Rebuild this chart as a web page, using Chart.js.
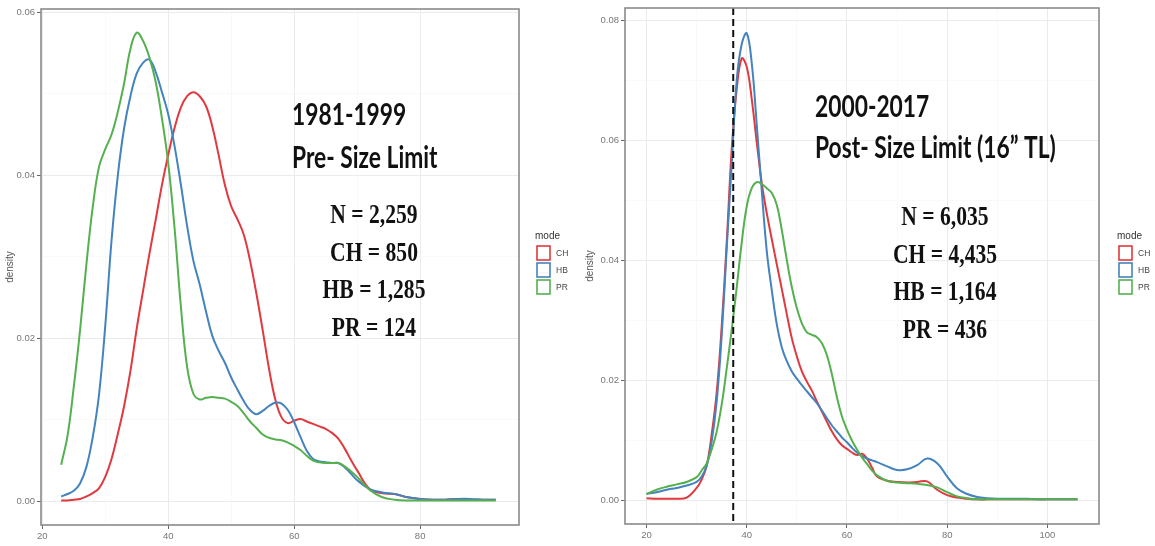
<!DOCTYPE html>
<html>
<head>
<meta charset="utf-8">
<title>Length density by mode, pre and post size limit</title>
<script src="https://cdn.jsdelivr.net/npm/chart.js@4.4.1/dist/chart.umd.min.js"></script>
<style>
  body { margin: 0; background: #fff; }
  #wrap { position: relative; width: 1155px; height: 546px; }
  canvas { position: absolute; top: 0; }
</style>
</head>
<body>
<div id="wrap">
  <canvas id="postChart" width="595" height="546" style="left:560px"></canvas>
  <canvas id="preChart" width="580" height="546" style="left:0"></canvas>
</div>
<script>
// ---- data ----
const modes = ['CH', 'HB', 'PR'];
const modeColors = ['#E0393E', '#4483BE', '#55B04F'];

// 1981-1999
const lenPre = [23,24,25,26,27,28,29,30,31,32,33,34,35,36,37,38,39,40,41,42,43,44,45,46,47,48,49,50,
  51,52,53,54,55,56,57,58,59,60,61,62,63,64,65,66,67,68,69,70,72,74,76,78,80,82,84,86,88,90,92];
const chPre = [0.0001,0.0001,0.0002,0.0003,0.0006,0.0010,0.0016,0.0030,0.0052,0.0083,
  0.0117,0.0160,0.0212,0.0258,0.0303,0.0345,0.0388,0.0425,0.0458,0.0483,
  0.0497,0.0502,0.0497,0.0485,0.0460,0.0425,0.0388,0.0362,0.0346,0.0327,
  0.0295,0.0255,0.0210,0.0163,0.0125,0.0103,0.0096,0.0099,0.0101,0.0098,
  0.0095,0.0092,0.0089,0.0084,0.0077,0.0065,0.0051,0.0038,
  0.0015,0.0010,0.0009,0.0005,0.0003,0.0002,0.0002,0.0003,0.0002,0.0002,0.0002];
const hbPre = [0.0006,0.0009,0.0013,0.0022,0.0042,0.0078,0.0130,0.0215,0.0320,0.0400,
  0.0458,0.0497,0.0525,0.0538,0.0542,0.0527,0.0502,0.0475,0.0436,0.0389,
  0.0338,0.0295,0.0266,0.0233,0.0203,0.0185,0.0170,0.0152,0.0137,0.0123,
  0.0112,0.0107,0.0111,0.0117,0.0121,0.0120,0.0112,0.0097,0.0079,0.0062,
  0.0052,0.0049,0.0048,0.0047,0.0047,0.0042,0.0034,0.0026,
  0.0015,0.0011,0.0009,0.0005,0.0003,0.0002,0.0002,0.0003,0.0003,0.0002,0.0002];
const prPre = [0.0045,0.0080,0.0140,0.0210,0.0290,0.0360,0.0410,0.0432,0.0450,0.0478,
  0.0513,0.0555,0.0575,0.0565,0.0545,0.0515,0.0470,0.0415,0.0336,0.0240,
  0.0165,0.0132,0.0125,0.0127,0.0128,0.0127,0.0126,0.0122,0.0117,0.0108,
  0.0098,0.0090,0.0082,0.0078,0.0076,0.0075,0.0072,0.0068,0.0063,0.0056,
  0.0050,0.0048,0.0047,0.0047,0.0047,0.0043,0.0037,0.0030,
  0.0014,0.0005,0.0002,0.0001,0.0001,0.0001,0.0001,0.0001,0.0001,0.0001,0.0001];

// 2000-2017
const lenPost = [20,22,24,26,28,30,31,32,33,34,35,36,37,38,39,40,41,42,43,44,45,46,47,48,49,50,
  51,52,53,54,55,56,57,58,59,60,61,62,63,64,65,66,
  68,70,72,74,76,78,80,82,84,86,88,90,92,94,96,98,100,102,104,106];
const chPost = [0.0004,0.0003,0.0003,0.0003,0.0005,0.0021,
  0.0035,0.0058,0.0110,0.0180,0.0290,0.0430,0.0585,0.0685,0.0736,0.0722,
  0.0668,0.0596,0.0528,0.0478,0.0435,0.0393,0.0352,0.0310,0.0270,0.0240,
  0.0215,0.0198,0.0183,0.0165,0.0148,0.0131,0.0115,0.0102,0.0092,0.0086,
  0.0080,0.0076,0.0078,0.0070,0.0055,0.0040,
  0.0033,0.0031,0.0030,0.0031,0.0032,0.0018,0.0009,0.0005,0.0003,0.0002,
  0.0002,0.0002,0.0002,0.0002,0.0002,0.0002,0.0002,0.0002,0.0002,0.0002];
const hbPost = [0.0011,0.0014,0.0018,0.0021,0.0025,0.0031,
  0.0040,0.0058,0.0098,0.0165,0.0275,0.0420,0.0560,0.0700,0.0760,0.0778,
  0.0728,0.0625,0.0515,0.0415,0.0350,0.0293,0.0255,0.0232,0.0215,0.0203,
  0.0192,0.0182,0.0172,0.0162,0.0150,0.0137,0.0125,0.0115,0.0105,0.0097,
  0.0088,0.0080,0.0074,0.0070,0.0067,0.0064,
  0.0057,0.0051,0.0052,0.0059,0.0070,0.0062,0.0040,0.0020,0.0011,0.0006,
  0.0004,0.0003,0.0003,0.0003,0.0003,0.0002,0.0002,0.0002,0.0002,0.0002];
const prPost = [0.0011,0.0018,0.0023,0.0027,0.0031,0.0039,
  0.0050,0.0062,0.0085,0.0115,0.0160,0.0220,0.0285,0.0355,0.0430,0.0490,
  0.0520,0.0530,0.0527,0.0520,0.0512,0.0492,0.0450,0.0400,0.0355,0.0320,
  0.0295,0.0280,0.0276,0.0272,0.0262,0.0242,0.0210,0.0172,0.0140,0.0118,
  0.0100,0.0085,0.0072,0.0061,0.0050,0.0042,
  0.0033,0.0030,0.0029,0.0028,0.0026,0.0022,0.0014,0.0007,0.0004,0.0002,
  0.0002,0.0002,0.0002,0.0002,0.0002,0.0002,0.0002,0.0002,0.0002,0.0002];

const xTicksPre = [20, 40, 60, 80];
const yTicksPre = [0, 0.02, 0.04, 0.06];
const xTicksPost = [20, 40, 60, 80, 100];
const yTicksPost = [0, 0.02, 0.04, 0.06, 0.08];

const sizeLimitLen = 37.3;   // dashed line, post panel

const headingPre = ['1981-1999', 'Pre- Size Limit'];
const countsPre = ['N = 2,259', 'CH = 850', 'HB = 1,285', 'PR = 124'];
const headingPost = ['2000-2017', 'Post- Size Limit (16\u201D TL)'];
const countsPost = ['N = 6,035', 'CH = 4,435', 'HB = 1,164', 'PR = 436'];

// ---- helpers ----
function withMinors(majors) {
  // ggplot-style: minor grid line halfway between majors
  const out = [];
  for (let i = 0; i < majors.length; i++) {
    out.push(majors[i]);
    if (i < majors.length - 1) out.push((majors[i] + majors[i + 1]) / 2);
  }
  return out;
}
function isMajor(v, majors) {
  return majors.some(m => Math.abs(m - v) < 1e-9);
}

function axis(majors, min, max, fmt, extra) {
  return Object.assign({
    type: 'linear',
    min: min,
    max: max,
    afterBuildTicks: s => { s.ticks = withMinors(majors).map(v => ({ value: v })); },
    ticks: {
      autoSkip: false,
      maxRotation: 0,
      padding: 2,
      color: '#777',
      font: { family: 'Liberation Sans', size: 9.5 },
      callback: v => isMajor(v, majors) ? fmt(v) : ''
    },
    grid: {
      color: c => isMajor(c.tick.value, majors) ? '#ebebeb' : '#f5f5f5',
      lineWidth: c => isMajor(c.tick.value, majors) ? 1 : 0.6,
      tickColor: c => isMajor(c.tick.value, majors) ? '#666' : 'rgba(0,0,0,0)',
      tickLength: 4,
      drawTicks: true
    },
    border: { display: false }
  }, extra);
}

function makePanel(p) {
  const datasets = p.series.map((vals, i) => ({
    label: modes[i],
    data: vals.map((y, k) => ({ x: p.lens[k], y: y })),
    borderColor: modeColors[i],
    backgroundColor: 'rgba(0,0,0,0)',
    borderWidth: 2,
    pointRadius: 0,
    tension: 0.4,
    fill: false,
    order: modes.length - i
  }));

  const decor = {
    id: 'decor',
    afterDatasetsDraw(chart) {
      const ctx = chart.ctx;
      const a = chart.chartArea;
      ctx.save();
      if (p.vline !== undefined) {
        const x = chart.scales.x.getPixelForValue(p.vline);
        ctx.strokeStyle = '#111';
        ctx.lineWidth = 2;
        ctx.setLineDash([7, 4]);
        ctx.beginPath();
        ctx.moveTo(x, a.top);
        ctx.lineTo(x, a.bottom);
        ctx.stroke();
        ctx.setLineDash([]);
      }
      // panel border
      ctx.strokeStyle = '#8a8a8a';
      ctx.lineWidth = 1.6;
      ctx.strokeRect(a.left, a.top, a.right - a.left, a.bottom - a.top);

      // heading text
      ctx.fillStyle = '#111';
      ctx.textBaseline = 'alphabetic';
      p.heading.forEach((t, i) => {
        ctx.save();
        ctx.font = 'bold 30px Lato';
        ctx.textAlign = 'left';
        ctx.translate(p.headX, p.headBase[i]);
        ctx.scale(0.76, 1);
        ctx.fillText(t, 0, 0);
        ctx.restore();
      });
      p.counts.forEach((t, i) => {
        ctx.save();
        ctx.font = 'bold 27px "Liberation Serif"';
        ctx.textAlign = 'center';
        ctx.translate(p.countX, p.countBase + i * 37.5);
        ctx.scale(0.8, 1);
        ctx.fillText(t, 0, 0);
        ctx.restore();
      });

      // legend
      const lx = p.legendX, ly = 245;
      ctx.font = '10px "Liberation Sans"';
      ctx.fillStyle = '#333';
      ctx.textAlign = 'left';
      ctx.fillText('mode', lx - 1, ly - 6);
      chart.data.datasets.forEach((d, i) => {
        const y = ly + i * 17;
        ctx.fillStyle = '#fff';
        ctx.fillRect(lx, y, 15, 16);
        ctx.strokeStyle = d.borderColor;
        ctx.lineWidth = 1.6;
        ctx.strokeRect(lx + 1, y + 1, 13, 14);
        ctx.fillStyle = '#444';
        ctx.font = '8.5px "Liberation Sans"';
        ctx.textBaseline = 'middle';
        ctx.fillText(d.label, lx + 20, y + 8.5);
        ctx.textBaseline = 'alphabetic';
      });
      ctx.restore();
    }
  };

  return new Chart(document.getElementById(p.canvas), {
    type: 'line',
    data: { datasets: datasets },
    plugins: [decor],
    options: {
      responsive: false,
      animation: false,
      devicePixelRatio: 1,
      layout: { padding: { left: 0, top: p.top, right: p.right, bottom: 0 } },
      plugins: { legend: { display: false }, tooltip: { enabled: false } },
      scales: {
        x: axis(p.xTicks, p.xMin, p.xMax, v => String(v), {
          afterFit: s => { s.height = p.xAxisHeight; }
        }),
        y: axis(p.yTicks, p.yMin, p.yMax, v => v.toFixed(2), {
          afterFit: s => { s.width = p.yAxisWidth; },
          title: {
            display: true, text: 'density', color: '#555',
            font: { family: 'Liberation Sans', size: 10 },
            padding: { top: p.titlePad, bottom: 0 }
          }
        })
      }
    }
  });
}

makePanel({
  canvas: 'preChart', lens: lenPre, series: [chPre, hbPre, prPre],
  xTicks: xTicksPre, yTicks: yTicksPre,
  xMin: 19.8, xMax: 95.7, yMin: -0.0029, yMax: 0.0604,
  top: 9, right: 61, yAxisWidth: 41, xAxisHeight: 21, titlePad: 4,
  heading: headingPre, headX: 292, headBase: [125, 168],
  counts: countsPre, countX: 374, countBase: 223,
  legendX: 536
});

makePanel({
  canvas: 'postChart', lens: lenPost, series: [chPost, hbPost, prPost],
  xTicks: xTicksPost, yTicks: yTicksPost,
  xMin: 15.7, xMax: 110.3, yMin: -0.0039, yMax: 0.082,
  top: 8, right: 56, yAxisWidth: 65, xAxisHeight: 22, titlePad: 24,
  heading: headingPost, headX: 255, headBase: [117, 158],
  counts: countsPost, countX: 385, countBase: 225,
  legendX: 558, vline: sizeLimitLen
});
</script>
</body>
</html>
